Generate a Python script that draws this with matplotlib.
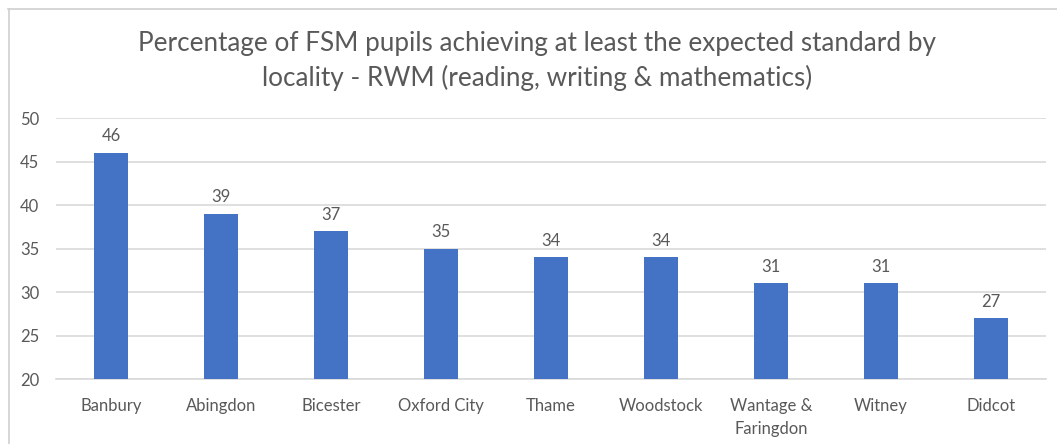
import matplotlib.pyplot as plt
from matplotlib.lines import Line2D

localities = ["Banbury", "Abingdon", "Bicester", "Oxford City", "Thame",
              "Woodstock", "Wantage &\nFaringdon", "Witney", "Didcot"]
rwm_pct = [46, 39, 37, 35, 34, 34, 31, 31, 27]
y_ticks = [20, 25, 30, 35, 40, 45, 50]

title = ("Percentage of FSM pupils achieving at least the expected standard by\n"
         "locality - RWM (reading, writing & mathematics)")

text_col = "#595959"
grid_col = "#D9D9D9"
bar_col = "#4472C4"

plt.rcParams["font.family"] = ["Lato", "DejaVu Sans"]

W, H = 1057, 444
fig = plt.figure(figsize=(W / 100, H / 100), dpi=100)
fig.patch.set_facecolor("white")

# chart frame (top and left edges)
fig.add_artist(Line2D([8 / W, 1.0], [1 - 9.5 / H, 1 - 9.5 / H], color="#D0D0D0", lw=1.2))
fig.add_artist(Line2D([8.5 / W, 8.5 / W], [0.0, 1 - 9.5 / H], color="#D0D0D0", lw=1.2))

ax = fig.add_axes([56 / W, 1 - 379 / H, (1046 - 56) / W, (379 - 118) / H])
x = range(len(localities))
bars = ax.bar(x, rwm_pct, width=0.31, color=bar_col, zorder=3)

ax.set_ylim(20, 50)
ax.set_xlim(-0.5, len(localities) - 0.5)
ax.set_yticks(y_ticks)
ax.set_xticks(list(x))
ax.set_xticklabels(localities, linespacing=1.5)
ax.grid(axis="y", color=grid_col, lw=1.2, zorder=0)
for s in ["top", "right", "left"]:
    ax.spines[s].set_visible(False)
ax.spines["bottom"].set_color(grid_col)
ax.spines["bottom"].set_linewidth(1.2)
ax.tick_params(axis="both", length=0, labelsize=12, colors=text_col)
ax.tick_params(axis="x", pad=14)
ax.tick_params(axis="y", pad=12)

for xi, v in zip(x, rwm_pct):
    ax.annotate(f"{v}", (xi, v), xytext=(0, 6), textcoords="offset points",
                ha="center", va="bottom", fontsize=12, color=text_col)

fig.text(0.5085, 1 - 61 / H, title, ha="center", va="center", fontsize=18.8,
         color=text_col, linespacing=1.45)

fig.savefig("out.png", dpi=100)
